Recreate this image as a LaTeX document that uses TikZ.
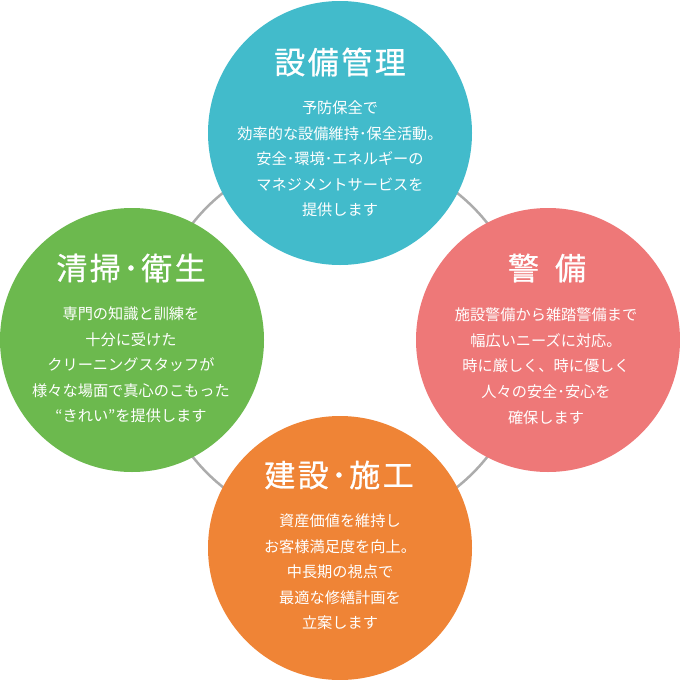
\documentclass[tikz,border=0pt]{standalone}
\usepackage{fontspec}
\newfontfamily\cjk{Noto Sans CJK JP}
\newfontfamily\cjkttl{Noto Sans CJK JP}[FakeBold=0.7,LetterSpace=8]
\definecolor{setsubi}{RGB}{66,187,203}
\definecolor{seisou}{RGB}{108,185,78}
\definecolor{keibi}{RGB}{238,120,120}
\definecolor{kensetsu}{RGB}{239,132,54}
\definecolor{ringgray}{RGB}{172,172,172}
\begin{document}
\begin{tikzpicture}[x=1pt,y=-1pt,
  circ/.style={circle,minimum size=264pt,inner sep=0pt,draw=none,fill=#1},
  ttl/.style={text=white,inner sep=0pt,font=\cjkttl\fontsize{31}{33}\selectfont},
  body/.style={text=white,inner sep=0pt,align=center,font=\cjk\fontsize{15.2}{25.6}\selectfont}]
\useasboundingbox (0,0) rectangle (680,680);
\coordinate (mid) at (340,340);
\draw[ringgray,line width=2.5pt] (mid) circle[radius=188];
% four circles
\node[circ=setsubi] (top) at (340,133) {};
\node[circ=seisou] (left) at (132,340) {};
\node[circ=keibi] (right) at (548,340) {};
\node[circ=kensetsu] (bottom) at (340,548) {};
% titles
\node[ttl] (toptitle) at (340,62) {設備管理};
\node[ttl] (lefttitle) at (131,268) {清掃･衛生};
\node[ttl] (righttitle) at (547,268) {警\hspace{16pt}備};
\node[ttl] (bottomtitle) at (339,475) {建設･施工};
% texts
\node[body] (toptext) at (340,159) {予防保全で\\効率的な設備維持･保全活動。\\安全･環境･エネルギーの\\マネジメントサービスを\\提供します};
\node[body] (lefttext) at (131,365) {専門の知識と訓練を\\十分に受けた\\クリーニングスタッフが\\様々な場面で真心のこもった\\“きれい”を提供します};
\node[body] (righttext) at (546,366) {施設警備から雑踏警備まで\\幅広いニーズに対応。\\時に厳しく、時に優しく\\人々の安全･安心を\\確保します};
\node[body] (bottomtext) at (340,572) {資産価値を維持し\\お客様満足度を向上。\\中長期の視点で\\最適な修繕計画を\\立案します};
\end{tikzpicture}
\end{document}
